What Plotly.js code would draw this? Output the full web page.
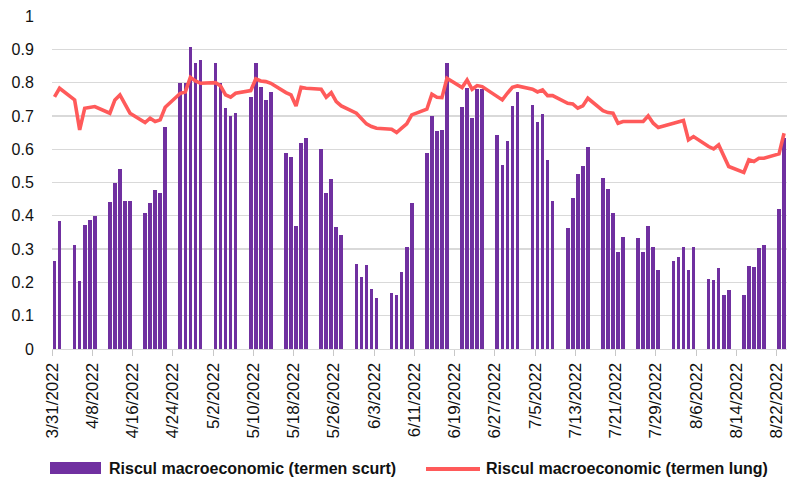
<!DOCTYPE html>
<html>
<head>
<meta charset="utf-8">
<script src="https://cdn.plot.ly/plotly-3.0.1.min.js"></script>
<style>html,body{margin:0;padding:0;background:#fff;}#chart{width:790px;height:478px;}</style>
</head>
<body>
<div id="chart"></div>
<script>
// Trading days (weekdays) 2022
const dates = [
  '2022-03-31','2022-04-01',
  '2022-04-04','2022-04-05','2022-04-06','2022-04-07','2022-04-08',
  '2022-04-11','2022-04-12','2022-04-13','2022-04-14','2022-04-15',
  '2022-04-18','2022-04-19','2022-04-20','2022-04-21','2022-04-22',
  '2022-04-25','2022-04-26','2022-04-27','2022-04-28','2022-04-29',
  '2022-05-02','2022-05-03','2022-05-04','2022-05-05','2022-05-06',
  '2022-05-09','2022-05-10','2022-05-11','2022-05-12','2022-05-13',
  '2022-05-16','2022-05-17','2022-05-18','2022-05-19','2022-05-20',
  '2022-05-23','2022-05-24','2022-05-25','2022-05-26','2022-05-27',
  '2022-05-30','2022-05-31','2022-06-01','2022-06-02','2022-06-03',
  '2022-06-06','2022-06-07','2022-06-08','2022-06-09','2022-06-10',
  '2022-06-13','2022-06-14','2022-06-15','2022-06-16','2022-06-17',
  '2022-06-20','2022-06-21','2022-06-22','2022-06-23','2022-06-24',
  '2022-06-27','2022-06-28','2022-06-29','2022-06-30','2022-07-01',
  '2022-07-04','2022-07-05','2022-07-06','2022-07-07','2022-07-08',
  '2022-07-11','2022-07-12','2022-07-13','2022-07-14','2022-07-15',
  '2022-07-18','2022-07-19','2022-07-20','2022-07-21','2022-07-22',
  '2022-07-25','2022-07-26','2022-07-27','2022-07-28','2022-07-29',
  '2022-08-01','2022-08-02','2022-08-03','2022-08-04','2022-08-05',
  '2022-08-08','2022-08-09','2022-08-10','2022-08-11','2022-08-12',
  '2022-08-15','2022-08-16','2022-08-17','2022-08-18','2022-08-19',
  '2022-08-22','2022-08-23'
];

// Riscul macroeconomic (termen scurt)
const shortTerm = [
  0.265,0.385,
  0.312,0.204,0.372,0.386,0.400,
  0.440,0.500,0.542,0.444,0.444,
  0.407,0.438,0.477,0.468,0.667,
  0.800,0.800,0.907,0.858,0.868,
  0.858,0.800,0.723,0.700,0.710,
  0.758,0.858,0.788,0.748,0.771,
  0.589,0.577,0.368,0.618,0.634,
  0.602,0.469,0.512,0.367,0.343,
  0.254,0.215,0.252,0.179,0.152,
  0.167,0.162,0.232,0.305,0.437,
  0.588,0.700,0.654,0.659,0.860,
  0.728,0.784,0.694,0.781,0.781,
  0.643,0.553,0.626,0.730,0.773,
  0.734,0.682,0.705,0.567,0.443,
  0.362,0.454,0.525,0.551,0.608,
  0.513,0.481,0.407,0.290,0.335,
  0.332,0.290,0.370,0.305,0.238,
  0.264,0.277,0.305,0.236,0.305,
  0.209,0.207,0.242,0.161,0.178,
  0.161,0.250,0.247,0.302,0.311,
  0.420,0.635
];

// Riscul macroeconomic (termen lung)
const longTerm = [
  0.757,0.783,
  0.748,0.658,0.723,0.725,0.728,
  0.708,0.748,0.763,0.733,0.708,
  0.680,0.693,0.683,0.688,0.726,
  0.768,0.772,0.816,0.805,0.798,
  0.800,0.790,0.763,0.756,0.768,
  0.776,0.811,0.805,0.803,0.798,
  0.770,0.763,0.730,0.786,0.783,
  0.780,0.756,0.770,0.743,0.730,
  0.708,0.690,0.676,0.668,0.663,
  0.660,0.650,0.663,0.676,0.703,
  0.720,0.765,0.756,0.755,0.813,
  0.785,0.808,0.780,0.791,0.788,
  0.758,0.748,0.768,0.786,0.790,
  0.780,0.772,0.778,0.761,0.761,
  0.738,0.736,0.723,0.730,0.753,
  0.716,0.710,0.708,0.678,0.683,
  0.683,0.683,0.700,0.678,0.665,
  0.676,0.680,0.686,0.628,0.638,
  0.608,0.601,0.613,0.578,0.548,
  0.530,0.568,0.563,0.573,0.573,
  0.586,0.648
];

const seriesNames = ['Riscul macroeconomic (termen scurt)', 'Riscul macroeconomic (termen lung)'];

const tickLabels = ['3/31/2022','4/8/2022','4/16/2022','4/24/2022','5/2/2022','5/10/2022','5/18/2022',
  '5/26/2022','6/3/2022','6/11/2022','6/19/2022','6/27/2022','7/5/2022','7/13/2022','7/21/2022',
  '7/29/2022','8/6/2022','8/14/2022','8/22/2022'];

const yTicks = [0,0.1,0.2,0.3,0.4,0.5,0.6,0.7,0.8,0.9,1];

// helpers
const pad = n => String(n).padStart(2,'0');
const toIso = s => { const [m,d,y] = s.split('/'); return y + '-' + pad(m) + '-' + pad(d); };
const xCentre = dates.map(d => d + ' 12:00');
const tickVals = tickLabels.map(toIso);

const FONT = '"Liberation Sans", Arial, sans-serif';
const purple = '#7030A0';
const red = '#FF5A5A';

const traces = [
  {
    type: 'bar', x: xCentre, y: shortTerm, name: seriesNames[0],
    marker: {color: purple, line: {width: 0}},
    width: 0.72 * 86400000, showlegend: false, hoverinfo: 'x+y'
  },
  {
    type: 'scatter', mode: 'lines', x: xCentre, y: longTerm, name: seriesNames[1],
    line: {color: red, width: 3.6}, showlegend: false
  }
];

const plotW = 790 - 52 - 3;
const plotH = 478 - 16 - 129;
const px = x => (x - 52) / plotW;
const py = y => (349 - y) / plotH;

const layout = {
  width: 790, height: 478,
  margin: {l: 52, r: 3, t: 16, b: 129, pad: 0},
  paper_bgcolor: '#fff', plot_bgcolor: '#fff',
  font: {family: FONT, size: 16, color: '#111'},
  bargap: 0,
  xaxis: {
    type: 'date',
    range: ['2022-03-31 00:00', '2022-08-24 02:00'],
    tickmode: 'array', tickvals: tickVals, ticktext: tickLabels,
    tickangle: -90, tickfont: {family: FONT, size: 17, color: '#111'},
    ticks: 'outside', ticklen: 6, tickcolor: '#c8c8c8', tickwidth: 1,
    showgrid: false, showline: true, linecolor: '#d9d9d9', linewidth: 1,
    zeroline: false, fixedrange: true
  },
  yaxis: {
    range: [0, 1], tickmode: 'array', tickvals: yTicks, ticktext: yTicks.map(String),
    tickfont: {family: FONT, size: 16, color: '#111'},
    ticks: 'outside', ticklen: 14, tickcolor: 'rgba(0,0,0,0)',
    showgrid: true, gridcolor: '#d9d9d9', gridwidth: 1.3,
    zeroline: false, showline: false, fixedrange: true
  },
  shapes: [
    {type: 'rect', xref: 'paper', yref: 'paper', x0: px(50), x1: px(101), y0: py(474), y1: py(462),
     fillcolor: purple, line: {width: 0}},
    {type: 'line', xref: 'paper', yref: 'paper', x0: px(426), x1: px(480), y0: py(469), y1: py(469),
     line: {color: red, width: 4}}
  ],
  annotations: [
    {xref: 'paper', yref: 'paper', x: px(107), y: py(468), xanchor: 'left', yanchor: 'middle',
     text: '<b>' + seriesNames[0] + '</b>', showarrow: false, font: {family: FONT, size: 16, color: '#111'}},
    {xref: 'paper', yref: 'paper', x: px(484), y: py(468), xanchor: 'left', yanchor: 'middle',
     text: '<b>' + seriesNames[1] + '</b>', showarrow: false, font: {family: FONT, size: 16, color: '#111'}}
  ],
  showlegend: false
};

Plotly.newPlot('chart', traces, layout, {displayModeBar: false, staticPlot: true});
</script>
</body>
</html>
